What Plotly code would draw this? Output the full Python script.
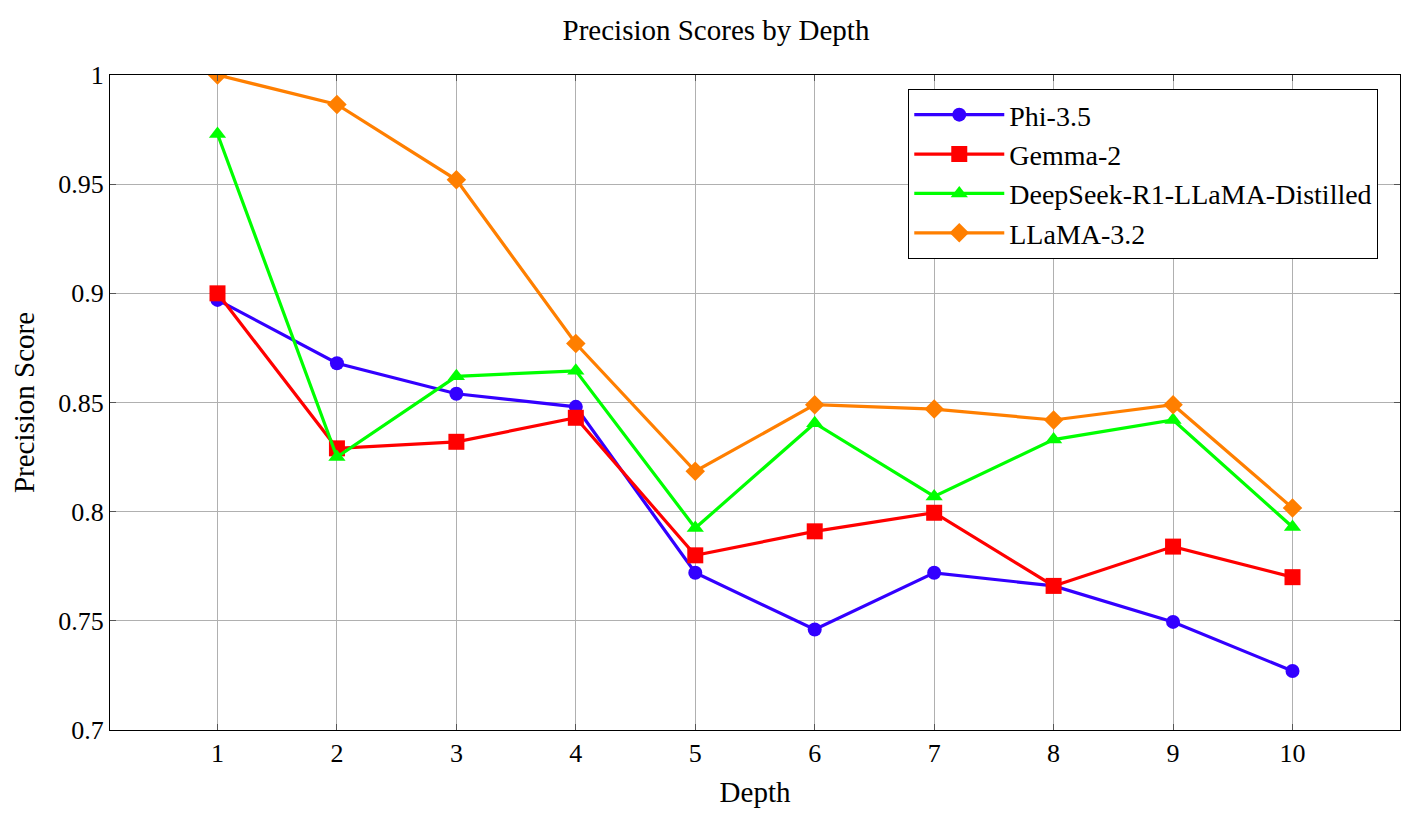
import plotly.graph_objects as go

depth = [1, 2, 3, 4, 5, 6, 7, 8, 9, 10]
phi35 = [0.897, 0.868, 0.854, 0.848, 0.772, 0.746, 0.772, 0.766, 0.7495, 0.727]
gemma2 = [0.900, 0.829, 0.832, 0.843, 0.780, 0.791, 0.7995, 0.766, 0.784, 0.770]
deepseek = [0.973, 0.825, 0.862, 0.8645, 0.7925, 0.8405, 0.807, 0.833, 0.842, 0.793]
llama32 = [1.000, 0.9865, 0.952, 0.877, 0.8185, 0.849, 0.847, 0.842, 0.849, 0.8017]

series = [
    ("Phi-3.5", phi35, "#3300ff", "circle", 14),
    ("Gemma-2", gemma2, "#ff0000", "square", 16),
    ("DeepSeek-R1-LLaMA-Distilled", deepseek, "#00ff00", "triangle-up", 15),
    ("LLaMA-3.2", llama32, "#ff7f00", "diamond", 15),
]

fig = go.Figure()
for name, vals, color, sym, size in series:
    fig.add_trace(go.Scatter(
        x=depth, y=vals, name=name, mode="lines+markers",
        line=dict(color=color, width=3.2),
        marker=dict(symbol=sym, size=size, color=color),
    ))

font_family = "Liberation Serif"
fig.update_layout(
    width=1416, height=813,
    paper_bgcolor="white", plot_bgcolor="white",
    margin=dict(l=102, r=24, t=67, b=91),
    font=dict(family=font_family, size=26, color="black"),
    title=dict(text="Precision Scores by Depth", x=0.5, xanchor="center",
               y=1 - 22 / 813, yanchor="middle", font=dict(size=29)),
    showlegend=True,
    legend=dict(
        x=0.983, xanchor="right", y=0.979, yanchor="top",
        bordercolor="black", borderwidth=1.2, bgcolor="white",
        font=dict(size=28), itemwidth=90, tracegroupgap=0,
    ),
)
fig.update_xaxes(
    range=[0.1, 10.9], tickmode="array", tickvals=depth,
    ticktext=[str(d) for d in depth],
    showgrid=True, gridcolor="#b0b0b0", gridwidth=1,
    showline=True, linecolor="black", linewidth=1.2, mirror="ticks",
    ticks="inside", ticklen=6, tickcolor="#555555",
    zeroline=False, automargin=False,
    title=dict(text="Depth", font=dict(size=29), standoff=14),
)
fig.update_yaxes(
    range=[0.7, 1.0], tickmode="array",
    tickvals=[0.7, 0.75, 0.8, 0.85, 0.9, 0.95, 1.0],
    ticktext=["0.7", "0.75", "0.8", "0.85", "0.9", "0.95", "1"],
    showgrid=True, gridcolor="#b0b0b0", gridwidth=1,
    showline=True, linecolor="black", linewidth=1.2, mirror="ticks",
    ticks="inside", ticklen=6, tickcolor="#555555",
    zeroline=False, automargin=False,
    title=dict(text="Precision Score", font=dict(size=29), standoff=22),
)

fig.write_html("out.html")
